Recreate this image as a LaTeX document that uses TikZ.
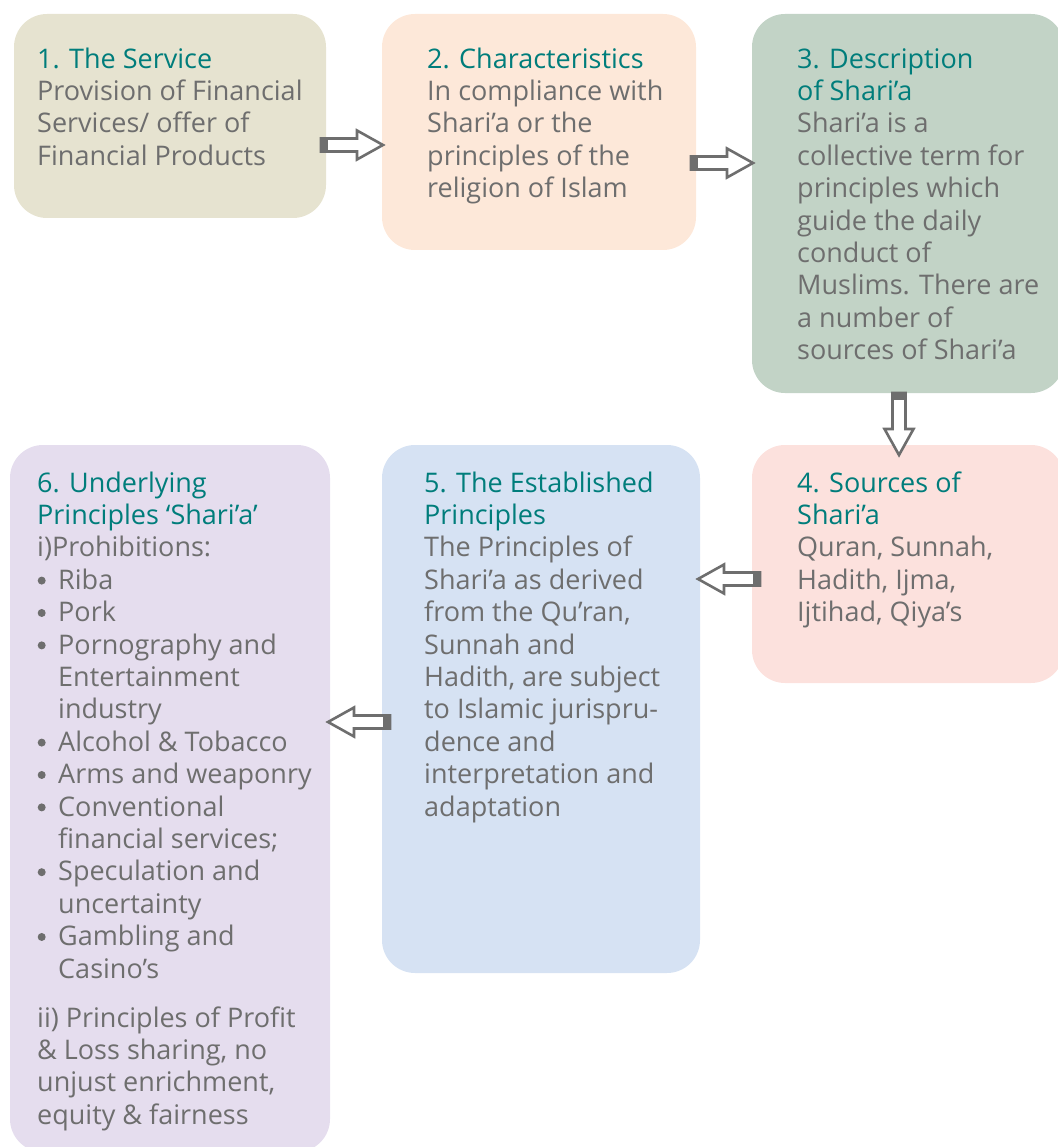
\documentclass[tikz,border=0pt]{standalone}
\usepackage{fontspec}
\setmainfont{Open Sans}
\usetikzlibrary{calc}
\definecolor{titlecol}{HTML}{007D7B}
\definecolor{bodycol}{HTML}{6E6E6E}
\definecolor{arrowcol}{HTML}{6E6E6E}
\definecolor{fillA}{RGB}{230,227,208}
\definecolor{fillB}{RGB}{253,232,217}
\definecolor{fillC}{RGB}{194,211,198}
\definecolor{fillD}{RGB}{252,225,221}
\definecolor{fillE}{RGB}{214,226,243}
\definecolor{fillF}{RGB}{229,221,238}
\tikzset{
  boxshape/.style={rounded corners=33pt},
  boxtext/.style={anchor=north west, inner sep=0pt, align=left, text=bodycol,
    font=\fontsize{27}{32.4}\selectfont},
  arrowline/.style={draw=arrowcol, fill=white, line width=2.6pt, line join=miter},
}
\newcommand\ttl[1]{\textcolor{titlecol}{#1}}
\newcommand\bul{\makebox[21pt][l]{\hspace*{0.5pt}\raisebox{4.8pt}{\tikz\fill[bodycol] (0,0) circle (4pt);}}}
\newcommand\hng{\hspace*{21pt}}
% block arrow: #1 = tail coordinate, #2 = rotation
\newcommand\blockarrow[2]{%
  \begin{scope}[shift={(#1)}, rotate=#2]
    \path[arrowline] (0,-6.5) -- (36,-6.5) -- (36,-14.5) -- (62,0) -- (36,14.5) -- (36,6.5) -- (0,6.5) -- cycle;
    \fill[arrowcol] (-1.3,-7.8) rectangle (7,7.8);
  \end{scope}}
\begin{document}
\begin{tikzpicture}[x=1pt,y=-1pt]
\useasboundingbox (0,0) rectangle (1057,1147);
% boxes
\fill[fillA, boxshape] (14,14) rectangle (326,218);
\fill[fillB, boxshape] (382,14) rectangle (696,250);
\fill[fillC, boxshape] (752,14) rectangle (1064,393);
\fill[fillD, boxshape] (752,445) rectangle (1064,683);
\fill[fillE, boxshape] (382,445) rectangle (700,973);
\fill[fillF, boxshape] (10,445) rectangle (330,1152);
% texts
\node[boxtext] (t1) at (37,45.3) {\strut\ttl{1. The Service}\\
Provision of Financial\\
Services/ offer of\\
Financial Products};
\node[boxtext] (t2) at (427,45.3) {\strut\ttl{2. Characteristics}\\
In compliance with\\
Shari’a or the\\
principles of the\\
religion of Islam};
\node[boxtext] (t3) at (797,45.3) {\strut\ttl{3. Description}\\
\ttl{of Shari’a}\\
Shari’a is a\\
collective term for\\
principles which\\
guide the daily\\
conduct of\\
Muslims. There are\\
a number of\\
sources of Shari’a};
\node[boxtext] (t4) at (797,469.3) {\strut\ttl{4. Sources of}\\
\ttl{Shari’a}\\
Quran, Sunnah,\\
Hadith, Ijma,\\
Ijtihad, Qiya’s};
\node[boxtext] (t5) at (424,469.3) {\strut\ttl{5. The Established}\\
\ttl{Principles}\\
The Principles of\\
Shari’a as derived\\
from the Qu’ran,\\
Sunnah and\\
Hadith, are subject\\
to Islamic jurispru-\\
dence and\\
interpretation and\\
adaptation};
\node[boxtext] (t6) at (37,469.3) {\strut\ttl{6. Underlying}\\
\ttl{Principles ‘Shari’a’}\\
i)Prohibitions:\\
\bul Riba\\
\bul Pork\\
\bul Pornography and\\
\hng Entertainment\\
\hng industry\\
\bul Alcohol \& Tobacco\\
\bul Arms and weaponry\\
\bul Conventional\\
\hng financial services;\\
\bul Speculation and\\
\hng uncertainty\\
\bul Gambling and\\
\hng Casino’s\\[16.6pt]
ii) Principles of Profit\\
\& Loss sharing, no\\
unjust enrichment,\\
equity \& fairness};
% arrows
\coordinate (a1) at (321,145);
\coordinate (a2) at (691,163);
\coordinate (a3) at (899,393);
\coordinate (a4) at (760,579);
\coordinate (a5) at (390,722);
\blockarrow{a1}{0}
\blockarrow{a2}{0}
\blockarrow{a3}{-90}
\blockarrow{a4}{180}
\blockarrow{a5}{180}
\end{tikzpicture}
\end{document}
